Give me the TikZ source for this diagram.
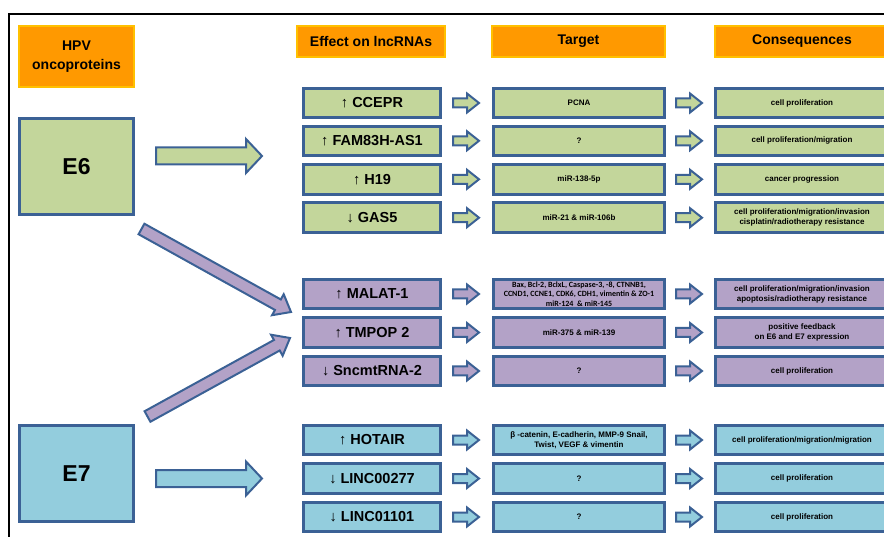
\documentclass[tikz,border=0pt]{standalone}
\usepackage{fontspec}
\setmainfont{Liberation Sans}
\newfontfamily\calfont{Carlito}
\usetikzlibrary{calc}

\definecolor{edgeblue}{HTML}{3B6195}
\definecolor{grn}{HTML}{C3D69B}
\definecolor{ppl}{HTML}{B3A2C7}
\definecolor{blu}{HTML}{93CDDD}
\definecolor{orng}{HTML}{FF9900}
\definecolor{orngedge}{HTML}{FFC000}

% fat arrow: [style]{from}{to}{half shaft}{half head}{head length}
\newcommand{\blockarrow}[6][]{%
  \coordinate (ba-s) at (#2);
  \coordinate (ba-e) at (#3);
  \coordinate (ba-n) at ($(ba-e)!#6!(ba-s)$);
  \filldraw[arrowline,#1] ($(ba-s)!#4!90:(ba-e)$) -- ($(ba-n)!#4!90:(ba-e)$)
    -- ($(ba-n)!#5!90:(ba-e)$) -- (ba-e) -- ($(ba-n)!#5!-90:(ba-e)$)
    -- ($(ba-n)!#4!-90:(ba-e)$) -- ($(ba-s)!#4!-90:(ba-e)$) -- cycle;
}

\begin{document}
\begin{tikzpicture}[x=1pt,y=-1pt,
    arrowline/.style={draw=edgeblue,line width=2pt,line join=miter},
    header/.style={fill=orng,draw=orngedge,line width=2pt,font=\bfseries\fontsize{14}{19}\selectfont,
      minimum height=31pt,align=center,inner sep=0pt},
    bigbox/.style={draw=edgeblue,line width=3pt,minimum width=114pt,minimum height=96pt,
      font=\bfseries\fontsize{23}{26}\selectfont},
    lncbox/.style={draw=edgeblue,line width=3pt,minimum width=137pt,minimum height=29.5pt,
      inner sep=0pt,font=\bfseries\fontsize{14.5}{16}\selectfont},
    tgtbox/.style={draw=edgeblue,line width=3pt,minimum width=171pt,minimum height=29.5pt,
      inner sep=0pt,align=center,font=\bfseries\fontsize{8}{10}\selectfont},
    conbox/.style={tgtbox,minimum width=173pt},
    plain/.style={},
    calibri/.style={font=\calfont\bfseries\fontsize{8}{9.3}\selectfont}]
  \useasboundingbox (0,0) rectangle (884,537);
  \draw[line width=1.2pt] (9,537) -- (9,14) -- (884,14);

  % headers
  \node[header,minimum width=115pt,minimum height=61pt] (hpv) at (76.5,56.5) {HPV\\oncoproteins};
  \node[header,minimum width=148pt] (heff) at (371,41.5) {Effect on lncRNAs};
  \node[header,minimum width=173pt] (htgt) at (578.5,41.5) {Target};
  \node[header,minimum width=174pt] (hcon) at (802,41.5) {Consequences};

  % oncoproteins
  \node[bigbox,fill=grn] (e6) at (76.5,166.5) {E6};
  \node[bigbox,fill=blu] (e7) at (76.5,473.5) {E7};

  % E6 group
  \foreach \i/\y/\lnc/\tgt/\con in {
      1/103/{↑ CCEPR}/{PCNA}/{cell proliferation},
      2/140.8/{↑ FAM83H-AS1}/{?}/{cell proliferation/migration},
      3/179.3/{↑ H19}/{miR-138-5p}/{cancer progression},
      4/217.7/{↓ GAS5}/{miR-21 \& miR-106b}/{cell proliferation/migration/invasion\\cisplatin/radiotherapy resistance}}
  {
    \node[lncbox,fill=grn] (l\i) at (372,\y) {\lnc};
    \node[tgtbox,fill=grn] (t\i) at (579,\y) {\tgt};
    \node[conbox,fill=grn] (c\i) at (802,\y) {\con};
    \blockarrow[fill=grn]{[xshift=11pt]l\i.east}{[xshift=-13pt]t\i.west}{4.5pt}{9.5pt}{12pt}
    \blockarrow[fill=grn]{[xshift=10pt]t\i.east}{[xshift=-12pt]c\i.west}{4.5pt}{9.5pt}{12pt}
  }

  % E6 and E7 group
  \foreach \i/\y/\lnc/\st/\tgt/\con in {
      5/294/{↑ MALAT-1}/calibri/{Bax, Bcl-2, BclxL, Caspase-3, -8, CTNNB1,\\CCND1, CCNE1, CDK6, CDH1, vimentin \& ZO-1\\miR-124 \ \& miR-145}/{cell proliferation/migration/invasion\\apoptosis/radiotherapy resistance},
      6/332.5/{↑ TMPOP 2}/plain/{miR-375 \& miR-139}/{positive feedback\\on E6 and E7 expression},
      7/371/{↓ SncmtRNA-2}/plain/{?}/{cell proliferation}}
  {
    \node[lncbox,fill=ppl] (l\i) at (372,\y) {\lnc};
    \node[tgtbox,\st,fill=ppl] (t\i) at (579,\y) {\tgt};
    \node[conbox,fill=ppl] (c\i) at (802,\y) {\con};
    \blockarrow[fill=ppl]{[xshift=11pt]l\i.east}{[xshift=-13pt]t\i.west}{4.5pt}{9.5pt}{12pt}
    \blockarrow[fill=ppl]{[xshift=10pt]t\i.east}{[xshift=-12pt]c\i.west}{4.5pt}{9.5pt}{12pt}
  }

  % E7 group
  \foreach \i/\y/\lnc/\tgt/\con in {
      8/440/{↑ HOTAIR}/{β -catenin, E-cadherin, MMP-9 Snail,\\Twist, VEGF \& vimentin}/{cell proliferation/migration/migration},
      9/478.5/{↓ LINC00277}/{?}/{cell proliferation},
      10/517/{↓ LINC01101}/{?}/{cell proliferation}}
  {
    \node[lncbox,fill=blu] (l\i) at (372,\y) {\lnc};
    \node[tgtbox,fill=blu] (t\i) at (579,\y) {\tgt};
    \node[conbox,fill=blu] (c\i) at (802,\y) {\con};
    \blockarrow[fill=blu]{[xshift=11pt]l\i.east}{[xshift=-13pt]t\i.west}{4.5pt}{9.5pt}{12pt}
    \blockarrow[fill=blu]{[xshift=10pt]t\i.east}{[xshift=-12pt]c\i.west}{4.5pt}{9.5pt}{12pt}
  }

  % big arrows
  \coordinate (e6out) at ($(e6.east)+(21,-10.5)$);
  \coordinate (e6tip) at ($(e6.east)+(127,-10.5)$);
  \coordinate (e6diag) at ($(e6.south east)+(6.5,13)$);
  \coordinate (e6diagtip) at ($(l5.west)+(-11,18)$);
  \coordinate (e7out) at ($(e7.east)+(21,5)$);
  \coordinate (e7tip) at ($(e7.east)+(127,5)$);
  \coordinate (e7diag) at ($(e7.north east)+(12.5,-7.5)$);
  \coordinate (e7diagtip) at ($(l6.west)+(-12,5.5)$);
  \blockarrow[fill=grn]{e6out}{e6tip}{8.5pt}{17pt}{16pt}
  \blockarrow[fill=blu]{e7out}{e7tip}{8.5pt}{17pt}{16pt}
  \blockarrow[fill=ppl]{e6diag}{e6diagtip}{6pt}{12pt}{15pt}
  \blockarrow[fill=ppl]{e7diag}{e7diagtip}{6pt}{12pt}{15pt}
\end{tikzpicture}
\end{document}
